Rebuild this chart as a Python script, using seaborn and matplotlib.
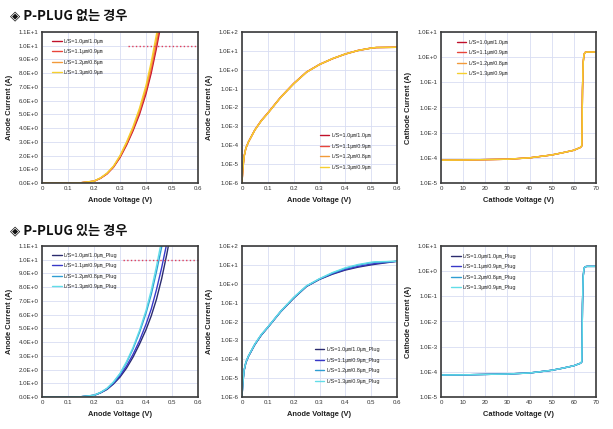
import numpy as np
import pandas as pd
import seaborn as sns
import matplotlib.pyplot as plt
from matplotlib.ticker import FixedLocator, FuncFormatter

# ---- data ----
titles = ["◈ P-PLUG 없는 경우", "◈ P-PLUG 있는 경우"]
labels_top = ["L/S=1.0㎛/1.0㎛", "L/S=1.1㎛/0.9㎛", "L/S=1.2㎛/0.8㎛", "L/S=1.3㎛/0.9㎛"]
labels_bot = [s + "_Plug" for s in labels_top]
colors_top = ["#C0102A", "#E8453A", "#F29A3A", "#F6CF2E"]
colors_bot = ["#2B2B6E", "#3838C8", "#2E9ED2", "#62DDE8"]

# linear anode sweep, no plug
lin_v_top = [0.0, 0.1, 0.15, 0.2, 0.225, 0.25, 0.275, 0.3, 0.325, 0.35, 0.375, 0.4, 0.42, 0.44, 0.46]
lin_i_top = [
    [0, 0, 0.02, 0.13, 0.34, 0.66, 1.15, 1.85, 2.75, 3.8, 5.0, 6.5, 8.0, 9.8, 11.8],
    [0, 0, 0.02, 0.13, 0.35, 0.68, 1.18, 1.90, 2.83, 3.9, 5.15, 6.7, 8.25, 10.1, 12.2],
    [0, 0, 0.02, 0.14, 0.36, 0.70, 1.20, 1.95, 2.90, 4.0, 5.3, 6.9, 8.5, 10.4, 12.6],
    [0, 0, 0.02, 0.14, 0.37, 0.72, 1.23, 2.00, 2.98, 4.1, 5.45, 7.1, 8.8, 10.8, 13.0],
]
# linear anode sweep, with plug
lin_v_bot = [0.0, 0.1, 0.15, 0.2, 0.225, 0.25, 0.275, 0.3, 0.325, 0.35, 0.375, 0.4, 0.42, 0.44, 0.46, 0.48, 0.5]
lin_i_bot = [
    [0, 0, 0.02, 0.12, 0.30, 0.55, 0.95, 1.45, 2.10, 2.9, 3.85, 4.9, 5.9, 7.1, 8.6, 10.4, 12.4],
    [0, 0, 0.02, 0.12, 0.31, 0.58, 1.00, 1.55, 2.25, 3.1, 4.10, 5.3, 6.4, 7.8, 9.4, 11.2, 13.2],
    [0, 0, 0.02, 0.13, 0.33, 0.62, 1.07, 1.68, 2.50, 3.5, 4.70, 6.1, 7.45, 9.1, 10.9, 12.9, 15.0],
    [0, 0, 0.02, 0.13, 0.33, 0.63, 1.10, 1.72, 2.57, 3.6, 4.85, 6.3, 7.75, 9.5, 11.4, 13.5, 15.6],
]
# log anode sweep
log_v = [0.0, 0.003, 0.008, 0.015, 0.025, 0.05, 0.075, 0.1, 0.15, 0.2, 0.25, 0.3, 0.35, 0.4, 0.45, 0.5, 0.52, 0.6]
log_i_top = [
    [1e-6, 5e-6, 2.5e-5, 7e-5, 1.5e-4, 6.5e-4, 2.0e-3, 5.0e-3, 3.5e-2, 0.18, 0.75, 1.90, 3.8, 6.8, 10.5, 14.0, 15.0, 15.5],
    [1e-6, 5e-6, 2.6e-5, 7e-5, 1.5e-4, 6.7e-4, 2.1e-3, 5.2e-3, 3.6e-2, 0.19, 0.77, 1.92, 3.9, 6.9, 10.7, 14.2, 15.1, 15.5],
    [1e-6, 5e-6, 2.4e-5, 7e-5, 1.5e-4, 6.4e-4, 2.0e-3, 4.9e-3, 3.4e-2, 0.18, 0.74, 1.88, 3.8, 6.7, 10.4, 13.9, 15.0, 15.5],
    [1e-6, 5e-6, 2.5e-5, 7e-5, 1.5e-4, 6.5e-4, 2.0e-3, 5.0e-3, 3.5e-2, 0.18, 0.75, 1.90, 3.9, 6.9, 10.6, 14.1, 15.2, 15.5],
]
log_i_bot = [
    [1e-6, 5e-6, 2.4e-5, 6.5e-5, 1.4e-4, 6.0e-4, 1.9e-3, 4.8e-3, 3.3e-2, 0.17, 0.72, 1.70, 3.2, 5.3, 7.6, 10.0, 11.0, 15.5],
    [1e-6, 5e-6, 2.5e-5, 6.8e-5, 1.45e-4, 6.2e-4, 2.0e-3, 5.0e-3, 3.4e-2, 0.18, 0.74, 1.75, 3.4, 5.7, 8.3, 11.0, 12.0, 15.5],
    [1e-6, 5e-6, 2.6e-5, 7.0e-5, 1.5e-4, 6.4e-4, 2.0e-3, 5.0e-3, 3.5e-2, 0.18, 0.76, 1.80, 3.7, 6.5, 9.8, 13.0, 14.0, 15.5],
    [1e-6, 5e-6, 2.6e-5, 7.0e-5, 1.5e-4, 6.5e-4, 2.1e-3, 5.1e-3, 3.5e-2, 0.19, 0.78, 1.85, 3.9, 7.0, 10.5, 13.8, 14.6, 15.5],
]
# cathode breakdown sweep
cath_v = [0, 10, 20, 30, 40, 50, 55, 60, 63, 63.6, 63.9, 64.2, 64.6, 65.1, 66, 70]
cath_i_top = [8.1e-5, 8.2e-5, 8.5e-5, 8.8e-5, 1.0e-4, 1.3e-4, 1.6e-4, 2.0e-4, 2.6e-4, 3.0e-4, 5e-2, 0.6, 1.3, 1.55, 1.6, 1.6]
cath_i_bot = [7.5e-5, 7.6e-5, 7.9e-5, 8.2e-5, 9.0e-5, 1.15e-4, 1.4e-4, 1.75e-4, 2.2e-4, 2.5e-4, 5e-2, 0.6, 1.3, 1.5, 1.55, 1.55]
# 10 A reference line
ref_i = 10
ref_v_top = [0.33, 0.6]
ref_v_bot = [0.31, 0.6]

sns.set_theme(style="whitegrid")
plt.rcParams['font.family'] = ['Liberation Sans', 'Noto Sans CJK KR', 'DejaVu Sans']

W, H = 613, 429
fig = plt.figure(figsize=(W / 100, H / 100), dpi=100)


def rect(l, r, t, b):
    return [l / W, 1 - b / H, (r - l) / W, (b - t) / H]


def sci(v, pos=None):
    m, e = f"{v:.1E}".split("E")
    return f"{m}E{int(e):+d}"


def draw(ax, xs, ys_list, labels, colors, log, xlim, ylim, xticks, xlabel, ylabel, leg_xy):
    frames = []
    for lab, ys in zip(labels, ys_list):
        frames.append(pd.DataFrame({"V": xs, "I": ys, "s": lab}))
    df = pd.concat(frames, ignore_index=True)
    sns.lineplot(data=df, x="V", y="I", hue="s", hue_order=labels, palette=colors,
                 sort=False, estimator=None, lw=1.0, legend=False, ax=ax)
    if log:
        ax.set_yscale("log")
        yt = [10.0 ** k for k in range(int(np.log10(ylim[0])), int(np.log10(ylim[1])) + 1)]
    else:
        yt = list(range(0, 12))
    ax.set_xlim(xlim)
    ax.set_ylim(ylim)
    ax.yaxis.set_major_locator(FixedLocator(yt))
    ax.yaxis.set_minor_locator(FixedLocator([]))
    ax.yaxis.set_major_formatter(FuncFormatter(sci))
    ax.xaxis.set_major_locator(FixedLocator(xticks))
    ax.xaxis.set_major_formatter(FuncFormatter(lambda v, p: f"{v:g}"))
    ax.tick_params(length=0, pad=2.5, labelsize=4.4, labelcolor="#333333")
    ax.grid(True, color="#D8DDF2", lw=0.6)
    for sp in ax.spines.values():
        sp.set_color("#3a3a3a")
        sp.set_linewidth(1.2)
    ax.set_xlabel(xlabel, fontsize=5.4, fontweight="bold", labelpad=4, color="#222222")
    ax.set_ylabel(ylabel, fontsize=5.4, fontweight="bold", labelpad=4, color="#222222")
    ax.legend(handles=ax.get_lines()[:4], labels=labels, loc="upper left", bbox_to_anchor=leg_xy,
              frameon=False, fontsize=4.0, labelspacing=0.95, handlelength=1.7,
              handletextpad=0.4, borderpad=0, borderaxespad=0)


xt_a = [0, 0.1, 0.2, 0.3, 0.4, 0.5, 0.6]
xt_c = [0, 10, 20, 30, 40, 50, 60, 70]

for row, (title, labels, colors) in enumerate([(titles[0], labels_top, colors_top),
                                               (titles[1], labels_bot, colors_bot)]):
    top, bot = (32, 183) if row == 0 else (246, 397)
    lin_v = lin_v_top if row == 0 else lin_v_bot
    lin_i = lin_i_top if row == 0 else lin_i_bot
    log_i = log_i_top if row == 0 else log_i_bot
    cath_i = cath_i_top if row == 0 else cath_i_bot
    ref_v = ref_v_top if row == 0 else ref_v_bot

    fig.text(10 / W, 1 - (15 if row == 0 else 230) / H, title, fontsize=9.5, fontweight="bold",
             va="center", ha="left", color="#111111",
             family=["Noto Sans CJK KR", "DejaVu Sans"])

    ax1 = fig.add_axes(rect(42, 198, top, bot))
    draw(ax1, lin_v, lin_i, labels, colors, False, (0, 0.6), (0, 11), xt_a,
         "Anode Voltage (V)", "Anode Current (A)", (0.065, 0.955))
    ax1.plot(ref_v, [ref_i, ref_i], ls=":", color="#E0405A", lw=1.0, clip_on=False)

    ax2 = fig.add_axes(rect(242, 397, top, bot))
    draw(ax2, log_v, log_i, labels, colors, True, (0, 0.6), (1e-6, 1e2), xt_a,
         "Anode Voltage (V)", "Anode Current (A)", (0.5 if row == 0 else 0.47, 0.33))

    ax3 = fig.add_axes(rect(441, 596, top, bot))
    draw(ax3, cath_v, [cath_i] * 4, labels, colors, True, (0, 70), (1e-5, 1e1), xt_c,
         "Cathode Voltage (V)", "Cathode Current (A)", (0.1 if row == 0 else 0.065, 0.95))

fig.savefig("out.png", dpi=100)
